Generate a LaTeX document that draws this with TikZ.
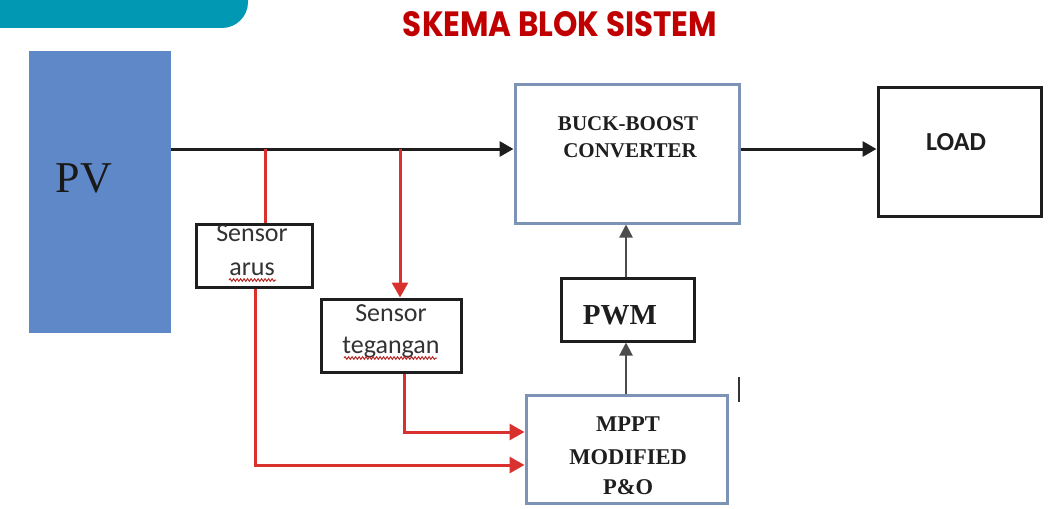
\documentclass[tikz,border=0pt]{standalone}
\usepackage{fontspec}
\setmainfont{Liberation Serif}
\newfontfamily\calfont{Carlito}
\newfontfamily\titlefont{Poppins}
\usetikzlibrary{arrows.meta,decorations.pathmorphing}

\definecolor{tabteal}{HTML}{0098B3}
\definecolor{titlered}{HTML}{C00000}
\definecolor{pvblue}{HTML}{5E88C8}
\definecolor{boxblue}{HTML}{7D93B6}
\definecolor{sigred}{HTML}{D8312E}
\definecolor{ink}{HTML}{1E1E1E}

\tikzset{
  blk/.style={draw=ink, line width=3pt, minimum width=#1, inner sep=0pt},
  bluebox/.style={draw=boxblue, line width=3pt, inner sep=0pt},
  serifbold/.style={font=\bfseries\fontsize{21}{21}\selectfont, anchor=base, inner sep=0pt, text=ink},
  sensortxt/.style={font=\calfont\fontsize{26}{26}\selectfont, anchor=base, inner sep=0pt, text=black!80},
  mainline/.style={draw=ink, line width=3pt, -{Triangle[width=15pt,length=14pt]}},
  redline/.style={draw=sigred, line width=3pt},
  redarrow/.style={redline, -{Triangle[width=16pt,length=15pt]}},
  ctrlarrow/.style={draw=black!70, line width=2.2pt, -{Triangle[width=13pt,length=13pt]}},
  squiggle/.style={draw=sigred!85!black, line width=1pt, decorate,
    decoration={snake, amplitude=1.3pt, segment length=3.5pt}},
}

\begin{document}
\begin{tikzpicture}[x=1pt, y=-1pt]
  \useasboundingbox (0,0) rectangle (1048,508);
  \fill[white] (0,0) rectangle (1048,508);

  % header tab and title
  \fill[tabteal, rounded corners=26pt] (-40,-40) rectangle (248,28);
  \node[anchor=base, inner sep=0pt, text=titlered] (title) at (560,37)
    {\resizebox{314pt}{25pt}{\titlefont\bfseries SKEMA BLOK SISTEM}};

  % blocks
  \node[fill=pvblue, minimum width=142pt, minimum height=282pt, inner sep=0pt] (PV) at (100,192) {};
  \node[font=\fontsize{44}{44}\selectfont, anchor=base, inner sep=0pt, text=black!90] (pvtxt) at (84,192) {PV};

  \node[bluebox, minimum width=224pt, minimum height=138pt] (BUCK) at (627,154) {};
  \node[serifbold] (bucka) at (628,130) {BUCK-BOOST};
  \node[serifbold] (buckb) at (630,157) {CONVERTER};

  \node[blk=163pt, minimum height=128pt] (LOAD) at (959.5,152) {};
  \node[font=\calfont\bfseries\fontsize{26}{26}\selectfont, anchor=base, inner sep=0pt, text=ink] (loadtxt) at (956,150) {LOAD};

  \node[blk=116pt, minimum height=63pt] (SA) at (254,255.5) {};
  \begin{scope}
    \clip (196,225.5) rectangle (312,300);
    \node[sensortxt] (saa) at (252,241) {Sensor};
  \end{scope}
  \node[sensortxt] (sab) at (252,275) {arus};
  \draw[squiggle] (229,280) -- (276,280);

  \node[blk=140pt, minimum height=73pt] (ST) at (391,335.5) {};
  \node[sensortxt] (sta) at (391,321) {Sensor};
  \node[sensortxt] (stb) at (391,353) {tegangan};
  \draw[squiggle] (344,358) -- (437,358);

  \node[blk=133pt, minimum height=63pt] (PWM) at (627.5,309.5) {};
  \node[serifbold, font=\bfseries\fontsize{29}{29}\selectfont] (pwmtxt) at (620,324) {PWM};

  \node[bluebox, minimum width=201pt, minimum height=108pt] (MPPT) at (626.5,449) {};
  \node[serifbold, font=\bfseries\fontsize{22.5}{22.5}\selectfont] (ma) at (628,431) {MPPT};
  \node[serifbold, font=\bfseries\fontsize{22.5}{22.5}\selectfont] (mb) at (628,464) {MODIFIED};
  \node[serifbold, font=\bfseries\fontsize{22.5}{22.5}\selectfont] (mc) at (628,494) {P\&O};

  % junctions and bends
  \coordinate (j1) at (265,149);
  \coordinate (j2) at (400,149);
  \coordinate (bi) at (255,465);
  \coordinate (bv) at (404,432);

  % power path
  \draw[mainline] (PV.east |- j1) -- (BUCK.west |- j1);
  \draw[mainline] (BUCK.east |- j1) -- (LOAD.west |- j1);

  % sensing paths
  \draw[redline] (j1) -- (j1 |- SA.north);
  \draw[redarrow] (j2) -- (j2 |- ST.north);
  \draw[redarrow] (bi |- SA.south) -- (bi) -- (MPPT.west |- bi);
  \draw[redarrow] (bv |- ST.south) -- (bv) -- (MPPT.west |- bv);

  % control path
  \draw[ctrlarrow] (MPPT.north -| 626,0) -- (PWM.south -| 626,0);
  \draw[ctrlarrow] (PWM.north -| 626,0) -- (BUCK.south -| 626,0);

  % text cursor
  \draw[black!80, line width=2.2pt] (739,377) -- (739,402);
\end{tikzpicture}
\end{document}
